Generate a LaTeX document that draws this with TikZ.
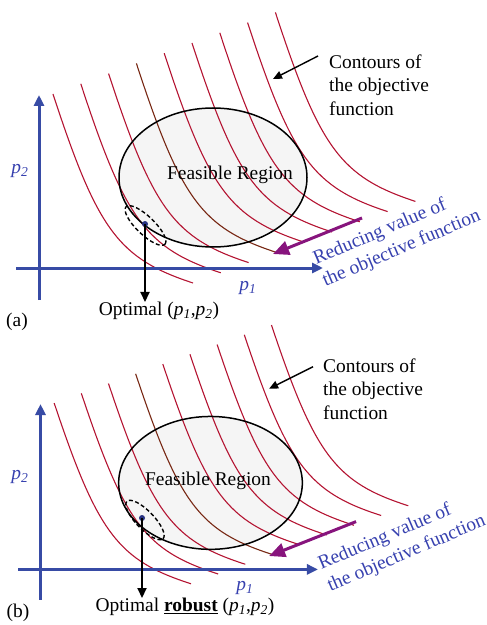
\documentclass[tikz,border=0pt]{standalone}
\usepackage{fontspec}
\setmainfont{Liberation Serif}
\usetikzlibrary{arrows.meta}

\definecolor{contred}{RGB}{180,20,50}
\definecolor{contbrown}{RGB}{120,40,20}
\definecolor{axisblue}{RGB}{55,75,165}
\definecolor{textblue}{RGB}{55,65,175}
\definecolor{arrowpurple}{RGB}{135,20,125}
\definecolor{dotnavy}{RGB}{40,50,130}

\newcommand{\pv}[1]{\textit{p}\textsubscript{\textit{#1}}}

\tikzset{
  axis/.style={axisblue, line width=3bp, -{Triangle[length=11bp,width=10bp]}},
  contour/.style={line width=1.1bp},
  feasible/.style={fill=gray!8},
  feasbord/.style={draw=black, line width=1.5bp},
  pointer/.style={black, line width=1.4bp, -{Triangle[length=9bp,width=8bp]}},
  optarrow/.style={black, line width=2.2bp, -{Triangle[length=10bp,width=9bp]}},
  reduce/.style={arrowpurple, line width=3bp, -{Triangle[length=16bp,width=14bp]}},
  optdot/.style={circle, fill=dotnavy, inner sep=0pt, minimum size=6bp},
  robustzone/.style={black, line width=1.4bp, dash pattern=on 4bp off 2.5bp},
  lbl/.style={inner sep=0pt},
}

\begin{document}
\begin{tikzpicture}[x=1bp, y=1bp, font=\fontsize{19.5}{23.7}\selectfont]
  \useasboundingbox (0,0) rectangle (487,-625);

  % ---------- panel (a) ----------
  % feasible region
  \fill[feasible] (213,-177.5) ellipse [x radius=94, y radius=69.5];
  % contours of the objective function
  \foreach \i/\c in {0/contred,1/contred,2/contred,3/contbrown,4/contred,5/contred,6/contred,7/contred,8/contred}
    \draw[contour, \c, shift={(27.8*\i,10.2*\i)}] (53,-94) .. controls (97.5,-230.3) and (118.5,-258.6) .. (193,-283);
  \draw[feasbord] (213,-177.5) ellipse [x radius=94, y radius=69.5];

  % axes
  \coordinate (ya0) at (39,-300);
  \coordinate (ya1) at (39,-95);
  \coordinate (xa0) at (16,-268);
  \coordinate (xa1) at (323,-268);
  \draw[axis] (ya0) -- (ya1);
  \draw[axis] (xa0) -- (xa1);
  \node[lbl, textblue] (p2a) at (20,-171) {\pv{2}};
  \node[lbl, textblue] (p1a) at (248,-288) {\pv{1}};

  \node[lbl] (feasa) at (230,-175) {Feasible Region};

  % contour pointer
  \node[lbl, align=left, anchor=west] (conta) at (329,-85) {Contours of\\the objective\\function};
  \coordinate (ca0) at (318,-56);
  \coordinate (ca1) at (273,-79);
  \draw[pointer] (ca0) -- (ca1);

  % reducing direction
  \coordinate (ra0) at (362,-218);
  \coordinate (ra1) at (273,-254);
  \draw[reduce] (ra0) -- (ra1);
  \node[lbl, textblue, align=left, rotate=23] (reda) at (397,-238) {Reducing value of\\the objective function};

  % optimum
  \draw[robustzone] (145.5,-225.5) ellipse [x radius=27, y radius=9, rotate=-44];
  \node[optdot] (dota) at (145,-224) {};
  \node[lbl] (optla) at (159,-311) {Optimal (\pv{1},\pv{2})};
  \draw[optarrow] (dota.center) -- (dota |- optla.north);
  \node[lbl] (taga) at (17,-322) {(a)};

  % ---------- panel (b) ----------
  \begin{scope}[shift={(2.4,-313.2)}, xscale=0.977, yscale=0.956]
    \fill[feasible] (213,-177.5) ellipse [x radius=94, y radius=69.5];
    \foreach \i/\c in {0/contred,1/contred,2/contred,3/contbrown,4/contred,5/contred,6/contred,7/contred,8/contred}
      \draw[contour, \c, shift={(27.8*\i,10.2*\i)}] (53,-94) .. controls (97.5,-230.3) and (118.5,-258.6) .. (193,-283);
    \draw[feasbord] (213,-177.5) ellipse [x radius=94, y radius=69.5];

    \coordinate (yb0) at (39,-300);
    \coordinate (yb1) at (39,-95);
    \coordinate (xb0) at (16,-268);
    \coordinate (xb1) at (323,-268);
    \draw[axis] (yb0) -- (yb1);
    \draw[axis] (xb0) -- (xb1);

    \coordinate (cb0) at (318,-56);
    \coordinate (cb1) at (273,-79);
    \draw[pointer] (cb0) -- (cb1);

    \coordinate (rb0) at (362,-218);
    \coordinate (rb1) at (273,-254);
    \draw[reduce] (rb0) -- (rb1);
  \end{scope}

  \node[lbl, textblue] (p2b) at (20,-477) {\pv{2}};
  \node[lbl, textblue] (p1b) at (245,-588) {\pv{1}};
  \node[lbl] (feasb) at (208,-481) {Feasible Region};
  \node[lbl, align=left, anchor=west] (contb) at (323,-389) {Contours of\\the objective\\function};
  \node[lbl, textblue, align=left, rotate=23] (redb) at (402,-543) {Reducing value of\\the objective function};

  % robust optimum
  \draw[robustzone] (145,-520) ellipse [x radius=26, y radius=9, rotate=-46];
  \node[optdot] (dotb) at (142,-518) {};
  \node[lbl] (optlb) at (185,-607) {Optimal \underline{\textbf{robust}} (\pv{1},\pv{2})};
  \draw[optarrow] (dotb.center) -- (dotb |- optlb.north);
  \node[lbl] (tagb) at (18,-613) {(b)};
\end{tikzpicture}
\end{document}
